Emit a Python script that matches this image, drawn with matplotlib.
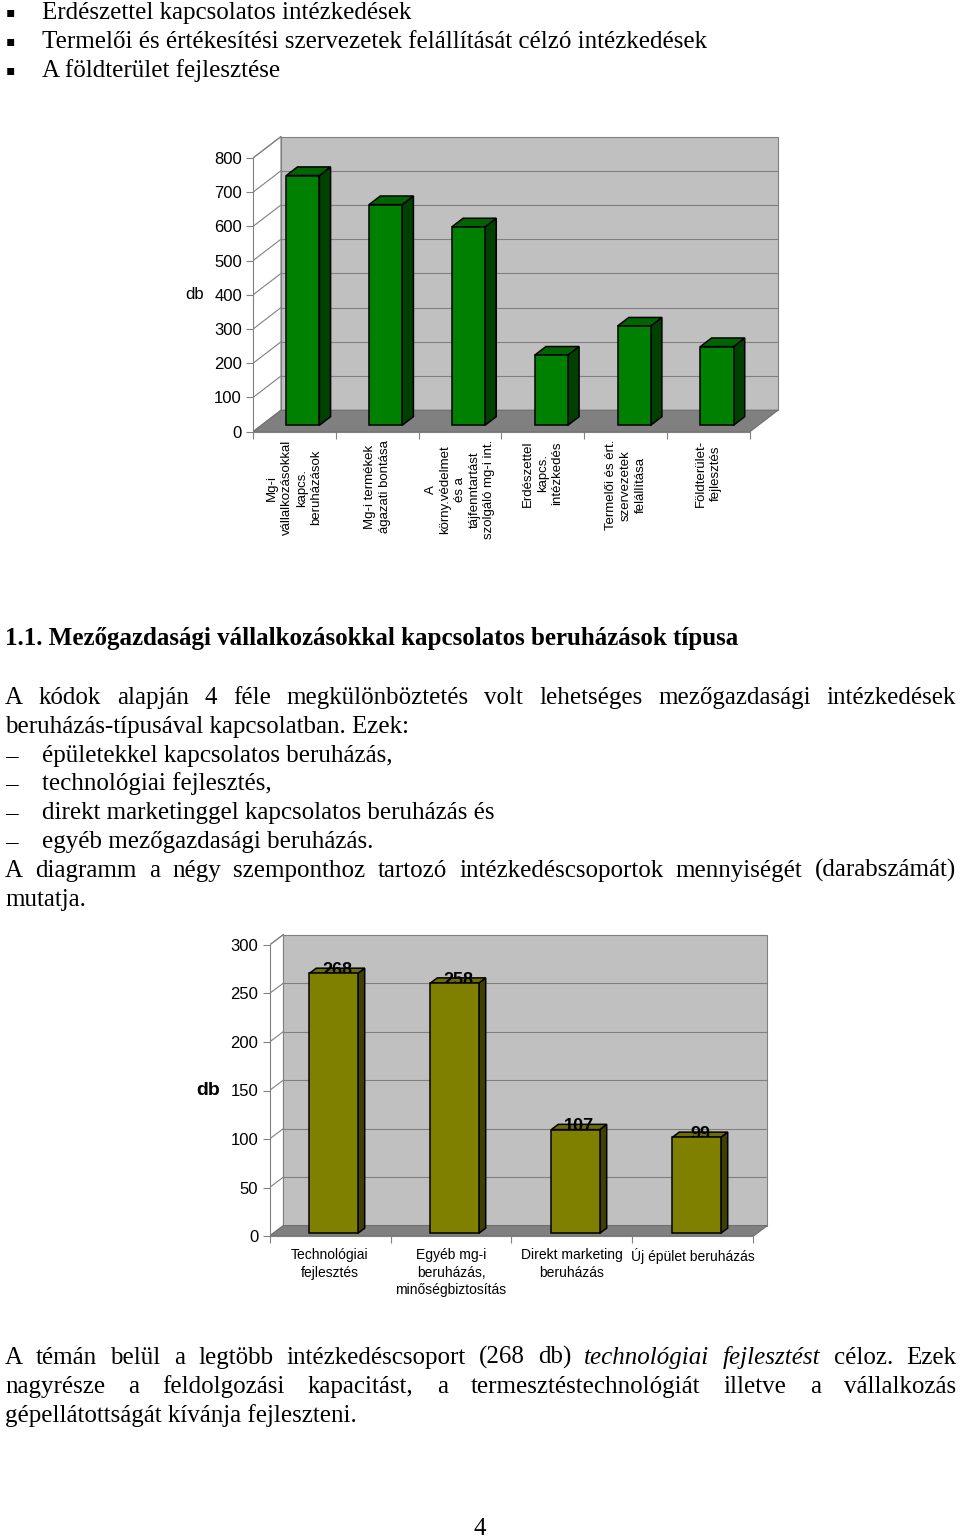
import matplotlib
matplotlib.use("Agg")
import matplotlib.pyplot as plt

# ---- data ----
cats1 = ["Mg-i\nvállalkozásokkal\nkapcs.\nberuházások",
         "Mg-i termékek\nágazati bontása",
         "A\nkörny.védelmet\nés a\ntájfenntartást\nszolgáló mg-i int.",
         "Erdészettel\nkapcs.\nintézkedés",
         "Termelői és ért.\nszervezetek\nfelállítása",
         "Földterület-\nfejlesztés"]
vals1 = [730, 645, 580, 205, 290, 230]
ticks1 = list(range(0, 801, 100))

cats2 = ["Technológiai\nfejlesztés",
         "Egyéb mg-i\nberuházás,\nminőségbiztosítás",
         "Direkt marketing\nberuházás",
         "Új épület beruházás"]
vals2 = [268, 258, 107, 99]
ticks2 = list(range(0, 301, 50))

bullets = ["Erdészettel kapcsolatos intézkedések",
           "Termelői és értékesítési szervezetek felállítását célzó intézkedések",
           "A földterület fejlesztése"]
heading = "1.1. Mezőgazdasági vállalkozásokkal kapcsolatos beruházások típusa"
para1 = ["A kódok alapján 4 féle megkülönböztetés volt lehetséges mezőgazdasági intézkedések",
         "beruházás-típusával kapcsolatban. Ezek:"]
dashes = ["épületekkel kapcsolatos beruházás,",
          "technológiai fejlesztés,",
          "direkt marketinggel kapcsolatos beruházás és",
          "egyéb mezőgazdasági beruházás."]
para2 = ["A diagramm a négy szemponthoz tartozó intézkedéscsoportok mennyiségét (darabszámát)",
         "mutatja."]
para3 = ["A témán belül a legtöbb intézkedéscsoport (268 db) *technológiai* *fejlesztést* céloz. Ezek",
         "nagyrésze a feldolgozási kapacitást, a termesztéstechnológiát illetve a vállalkozás",
         "gépellátottságát kívánja fejleszteni."]

W, H = 960, 1537
fig = plt.figure(figsize=(W / 100, H / 100), dpi=100)
fig.patch.set_facecolor("white")

SERIF = "Liberation Serif"
SANS = "Liberation Sans"
FS = 18


def px_axes(left, right, top, bottom):
    return fig.add_axes([left / W, 1 - bottom / H, (right - left) / W, (bottom - top) / H])


def text_line(x, y, s, **kw):
    kw.setdefault("fontsize", FS)
    kw.setdefault("family", SERIF)
    return fig.text(x / W, 1 - y / H, s, va="baseline", ha=kw.pop("ha", "left"), **kw)


def justified(y, line, x0=5, x1=956):
    r = fig.canvas.get_renderer()
    texts = []
    for w in line.split():
        style = "normal"
        if w.startswith("*") and w.endswith("*"):
            w, style = w.strip("*"), "italic"
        texts.append(text_line(0, y, w, style=style))
    widths = [t.get_window_extent(r).width for t in texts]
    gap = (x1 - x0 - sum(widths)) / (len(texts) - 1)
    x = x0
    for t, w in zip(texts, widths):
        t.set_x(x / W)
        x += w + gap


def bar3d(ax, vals, cats, ticks, dx, dy, f0, f1, width, cols, labels=False):
    n = len(vals)
    ymax = ticks[-1]
    # walls and floor
    ax.fill([0, 0, dx, dx], [0, ymax, ymax + dy, dy], facecolor="white",
            edgecolor="#808080", lw=0.8, zorder=0)
    ax.fill([dx, n + dx, n + dx, dx], [dy, dy, ymax + dy, ymax + dy],
            facecolor="#c0c0c0", edgecolor="#808080", lw=0.8, zorder=0)
    for t in ticks[1:-1]:
        ax.plot([dx, n + dx], [t + dy, t + dy], color="#808080", lw=0.8, zorder=0.5)
    for t in ticks[1:]:
        ax.plot([0, dx], [t, t + dy], color="#808080", lw=0.8, zorder=0.5)
    ax.fill([0, n, n + dx, dx], [0, 0, dy, dy], facecolor="#808080",
            edgecolor="#707070", lw=0.8, zorder=1)

    xs = [i + 0.5 + f0 * dx for i in range(n)]
    base = f0 * dy
    ddx, ddy = (f1 - f0) * dx, (f1 - f0) * dy
    ax.bar(xs, vals, width=width, bottom=base, color=cols[0], edgecolor="black",
           lw=1.1, zorder=4)
    for x, v in zip(xs, vals):
        xr = x + width / 2
        xl = x - width / 2
        ax.fill([xr, xr + ddx, xr + ddx, xr], [base, base + ddy, base + v + ddy, base + v],
                facecolor=cols[1], edgecolor="black", lw=1.1, zorder=3)
        ax.fill([xl, xr, xr + ddx, xl + ddx], [base + v, base + v, base + v + ddy, base + v + ddy],
                facecolor=cols[2], edgecolor="black", lw=1.1, zorder=3)
        if labels:
            ax.text(x + ddx / 2, base + v + ddy / 2, str(v), ha="center", va="center",
                    fontsize=13, fontweight="bold", family=SANS, zorder=3.5)

    for s in ("top", "right"):
        ax.spines[s].set_visible(False)
    ax.spines["left"].set_bounds(0, ymax)
    ax.spines["bottom"].set_bounds(0, n)
    for s in ("left", "bottom"):
        ax.spines[s].set_color("#808080")
        ax.spines[s].set_linewidth(0.8)
    ax.set_yticks(ticks)
    ax.set_yticklabels([str(t) for t in ticks])
    ax.set_xticks(range(n + 1))
    ax.set_xticklabels([])
    ax.set_xticks([i + 0.5 for i in range(n)], minor=True)
    ax.tick_params(axis="both", which="major", direction="out", length=5,
                   color="#808080", width=0.8)
    ax.tick_params(axis="x", which="minor", length=0)
    ax.tick_params(axis="y", labelsize=12, pad=3)
    ax.patch.set_visible(False)
    for lab in ax.get_yticklabels():
        lab.set_family(SANS)


# ---- top bullets ----
for i, s in enumerate(bullets):
    y = 19.5 + i * 28.8
    text_line(6, y - 3, "\u25aa", family="DejaVu Sans", fontsize=10)
    text_line(42, y, s)

# ---- chart 1 ----
ax1 = px_axes(253, 253 + 6.45 * 82.83, 431.7 - 880 * 0.3421, 431.7)
ax1.set_xlim(0, 6.45)
ax1.set_ylim(0, 880)
bar3d(ax1, vals1, cats1, ticks1, dx=0.338, dy=62.8, f0=0.3, f1=0.7, width=0.4,
      cols=["#008000", "#004000", "#006400"])
ax1.set_xticklabels(cats1, minor=True, rotation=90, ha="center", va="top",
                    fontsize=9.5, family=SANS, multialignment="center", linespacing=1.3)
ax1.tick_params(axis="x", which="minor", pad=6)
ax1.annotate("db", xy=(0, 400), xycoords=ax1.get_yaxis_transform(), xytext=(-58, 0),
             textcoords="offset pixels", ha="center", va="center", fontsize=12, family=SANS)

# ---- text block ----
text_line(5, 645, heading, fontweight="bold")
justified(704, para1[0])
text_line(5, 732.8, para1[1])
for i, s in enumerate(dashes):
    y = 761.6 + i * 28.8
    text_line(5, y, "\u2013")
    text_line(42, y, s)
justified(876.8, para2[0])
text_line(5, 905.6, para2[1])

# ---- chart 2 ----
ax2 = px_axes(269.5, 269.5 + 4.2 * 121, 1236 - 320 * 0.97, 1236)
ax2.set_xlim(0, 4.2)
ax2.set_ylim(0, 320)
bar3d(ax2, vals2, cats2, ticks2, dx=0.1157, dy=10.8, f0=0.25, f1=0.75, width=0.4,
      cols=["#808000", "#404000", "#6e6e00"], labels=True)
ax2.set_xticklabels(cats2, minor=True, ha="center", va="top", fontsize=10,
                    family=SANS, multialignment="center", linespacing=1.3)
ax2.tick_params(axis="x", which="minor", pad=9)
ax2.annotate("db", xy=(0, 150), xycoords=ax2.get_yaxis_transform(), xytext=(-61, 0),
             textcoords="offset pixels", ha="center", va="center", fontsize=14,
             fontweight="bold", family=SANS)

# ---- closing paragraph ----
justified(1364, para3[0])
justified(1393, para3[1])
text_line(5, 1422, para3[2])
text_line(480, 1535, "4", ha="center")

fig.savefig("out.png", dpi=100, facecolor="white")
